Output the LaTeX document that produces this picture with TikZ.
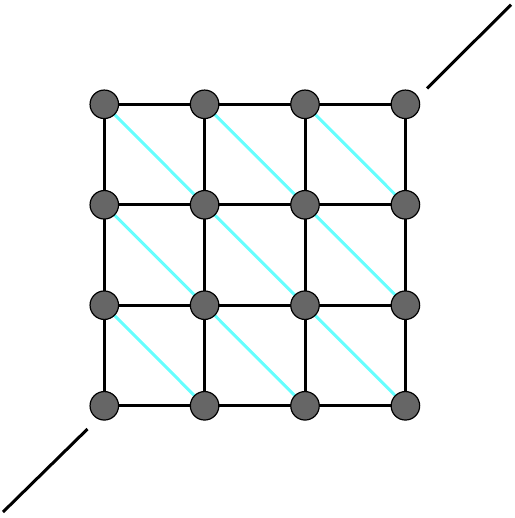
\documentclass[tikz,border=0pt]{standalone}
\begin{document}
\begin{tikzpicture}[x=1pt,y=-1pt,
  vtx/.style={circle,draw=black,fill=black!60,line width=1.2pt,minimum size=28.5pt,inner sep=0pt},
  edge/.style={line width=3pt,black},
  diag/.style={line width=3pt,color={rgb,255:red,102;green,255;blue,255}},
  tail/.style={line width=3pt,black}]
\useasboundingbox (0,0) rectangle (514,518);
\foreach \i/\x in {0/104.3,1/204.6,2/305,3/405.4}{
  \foreach \j/\y in {0/104.3,1/204.8,2/305.2,3/405.8}{
    \coordinate (p\i\j) at (\x,\y);
  }
}
% diagonals
\foreach \i in {0,1,2}{
  \foreach \j in {0,1,2}{
    \pgfmathtruncatemacro{\ii}{\i+1}
    \pgfmathtruncatemacro{\jj}{\j+1}
    \draw[diag] (p\i\j) -- (p\ii\jj);
  }
}
% grid edges
\foreach \j in {0,1,2,3}{
  \draw[edge] (p0\j) -- (p1\j) -- (p2\j) -- (p3\j);
  \draw[edge] (p\j0) -- (p\j1) -- (p\j2) -- (p\j3);
}
\foreach \i in {0,1,2,3}{
  \foreach \j in {0,1,2,3}{
    \node[vtx] (n\i\j) at (p\i\j) {};
  }
}
\coordinate (ta) at (427,88.5);
\coordinate (tb) at (511,4.7);
\coordinate (ba) at (87.5,429);
\coordinate (bb) at (3,512);
\draw[tail] (ta) -- (tb);
\draw[tail] (ba) -- (bb);
\end{tikzpicture}
\end{document}
